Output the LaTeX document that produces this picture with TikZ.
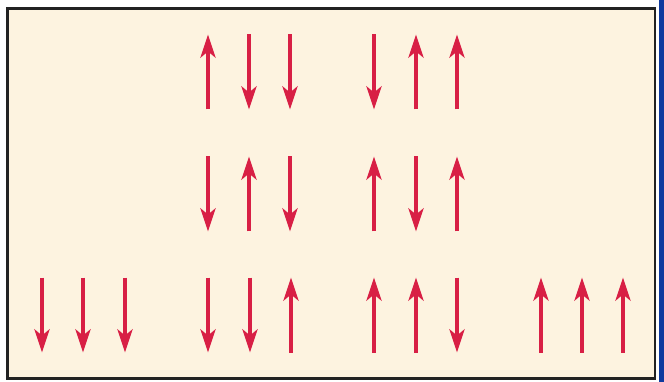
\documentclass[tikz,border=0pt]{standalone}
\usetikzlibrary{arrows.meta}
\definecolor{cream}{HTML}{FDF3E0}
\definecolor{spin}{HTML}{D81F45}
\definecolor{edgeblue}{HTML}{0E3A9E}
\definecolor{frame}{HTML}{222222}
\tikzset{
  spinarrow/.style={draw=spin, line width=4pt, -{Stealth[length=23pt, width=15pt, inset=6pt]}},
}
\begin{document}
\begin{tikzpicture}[x=1pt, y=-1pt]
\useasboundingbox (0,0) rectangle (664,382);
\fill[white] (0,0) rectangle (664,382);
\fill[edgeblue] (659,0) rectangle (664,382);
\fill[cream, draw=frame, line width=2.5pt] (7.5,8.5) rectangle (655,378.5);
\foreach \x/\y/\d [count=\i] in {
  208/72/u, 249/72/d, 290/72/d, 374/72/d, 416/72/u, 457/72/u,
  208/194/d, 249/194/u, 290/194/d, 374/194/u, 416/194/d, 457/194/u,
  42/315/d, 83/315/d, 125/315/d, 208/315/d, 250/315/d, 291/315/u,
  374/315/u, 416/315/u, 457/315/d, 541/315/u, 582/315/u, 623/315/u}{
  \coordinate (top\i) at (\x,\y-37.5);
  \coordinate (bot\i) at (\x,\y+37.5);
  \if\d u
    \draw[spinarrow] (bot\i) -- (top\i);
  \else
    \draw[spinarrow] (top\i) -- (bot\i);
  \fi
}
\end{tikzpicture}
\end{document}
